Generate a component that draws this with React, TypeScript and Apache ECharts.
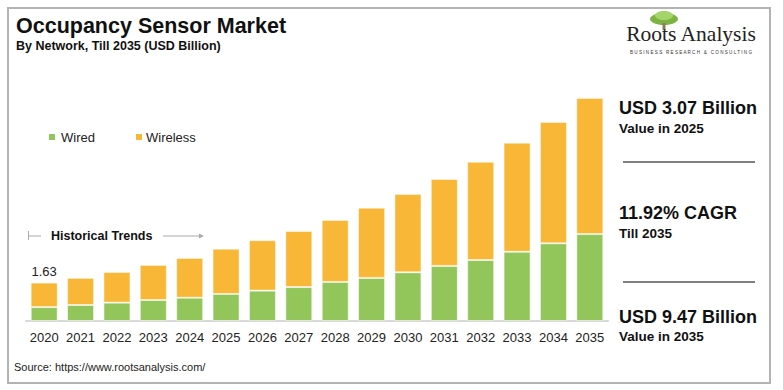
import React, { useEffect, useRef } from "react";
import * as echarts from "echarts";

const years = ["2020","2021","2022","2023","2024","2025","2026","2027","2028","2029","2030","2031","2032","2033","2034","2035"];
const wired = [0.59, 0.68, 0.78, 0.89, 0.99, 1.15, 1.29, 1.44, 1.66, 1.83, 2.07, 2.34, 2.59, 2.94, 3.30, 3.69];
const wireless = [1.04, 1.15, 1.30, 1.49, 1.69, 1.92, 2.14, 2.38, 2.63, 2.98, 3.32, 3.69, 4.17, 4.63, 5.15, 5.78];
const firstLabel = "1.63";

const GREEN = "#92C55A";
const ORANGE = "#F8B737";
const FONT = "Liberation Sans, Arial, sans-serif";

export default function App() {
  const ref = useRef<HTMLDivElement>(null);
  useEffect(() => {
    if (!ref.current) return;
    const chart = echarts.init(ref.current, null, { renderer: "svg" });
    const option: any = {
      animation: false,
      backgroundColor: "#ffffff",
      textStyle: { fontFamily: FONT },
      grid: { left: 26, right: 175, top: 85.5, bottom: 69 },
      legend: { show: false },
      xAxis: {
        type: "category",
        data: years,
        axisLine: { lineStyle: { color: "#d9d9d9", width: 2 } },
        axisTick: { show: false },
        axisLabel: { interval: 0, color: "#222", fontSize: 13, margin: 10, fontFamily: FONT },
      },
      yAxis: { type: "value", min: 0, max: 10, show: false, splitLine: { show: false } },
      series: [
        {
          name: "Wired",
          type: "bar",
          stack: "t",
          barWidth: 27,
          data: wired,
          itemStyle: { color: GREEN, borderColor: "rgba(255,255,255,0.55)", borderWidth: 1 },
        },
        {
          name: "Wireless",
          type: "bar",
          stack: "t",
          barWidth: 27,
          data: wireless.map((v, i) =>
            i === 0
              ? { value: v, label: { show: true, position: "top", distance: 5, formatter: firstLabel, color: "#222", fontSize: 13, fontFamily: FONT } }
              : v
          ),
          itemStyle: { color: ORANGE, borderColor: "rgba(255,255,255,0.45)", borderWidth: 1 },
        },
      ],
      graphic: [
        { type: "rect", shape: { x: 8, y: 8, width: 762, height: 375 }, style: { fill: "none", stroke: "#b3b3b3", lineWidth: 2 }, z: 100 },
        { type: "text", x: 16, y: 26, style: { text: "Occupancy Sensor Market", font: `bold 21.5px ${FONT}`, fill: "#111", textVerticalAlign: "middle" } },
        { type: "text", x: 16, y: 46, style: { text: "By Network, Till 2035 (USD Billion)", font: `bold 12.5px ${FONT}`, fill: "#111", textVerticalAlign: "middle" } },
        // logo
        { type: "ellipse", shape: { cx: 664, cy: 19, rx: 14, ry: 6 }, style: { fill: "#7cb342" } },
        { type: "ellipse", shape: { cx: 664, cy: 15.5, rx: 9, ry: 4.5 }, style: { fill: "#a5d46a" } },
        { type: "rect", shape: { x: 662.5, y: 23, width: 3, height: 7 }, style: { fill: "#8a7a5a" } },
        { type: "text", x: 691, y: 34, style: { text: "Roots Analysis", font: `21.5px Liberation Serif, Times New Roman, serif`, fill: "#222", align: "center", textVerticalAlign: "middle" } },
        { type: "text", x: 691, y: 52, style: { text: "B U S I N E S S   R E S E A R C H   &   C O N S U L T I N G", font: `4.6px ${FONT}`, fill: "#333", align: "center", textVerticalAlign: "middle" } },
        // legend
        { type: "rect", shape: { x: 49, y: 134, width: 6, height: 6 }, style: { fill: GREEN } },
        { type: "text", x: 61, y: 137.5, style: { text: "Wired", font: `13px ${FONT}`, fill: "#222", textVerticalAlign: "middle" } },
        { type: "rect", shape: { x: 136, y: 134, width: 6, height: 6 }, style: { fill: ORANGE } },
        { type: "text", x: 146, y: 137.5, style: { text: "Wireless", font: `13px ${FONT}`, fill: "#222", textVerticalAlign: "middle" } },
        // historical trends
        { type: "line", shape: { x1: 28.5, y1: 231, x2: 28.5, y2: 240 }, style: { stroke: "#aaa", lineWidth: 1 } },
        { type: "line", shape: { x1: 28, y1: 236, x2: 41, y2: 236 }, style: { stroke: "#aaa", lineWidth: 1 } },
        { type: "text", x: 51, y: 236, style: { text: "Historical Trends", font: `bold 12.5px ${FONT}`, fill: "#111", textVerticalAlign: "middle" } },
        { type: "line", shape: { x1: 163, y1: 236, x2: 200, y2: 236 }, style: { stroke: "#aaa", lineWidth: 1 } },
        { type: "polygon", shape: { points: [[199, 233.5], [204, 236], [199, 238.5]] }, style: { fill: "#aaa" } },
        // right panel
        { type: "text", x: 619, y: 108, style: { text: "USD 3.07 Billion", font: `bold 18px ${FONT}`, fill: "#111", textVerticalAlign: "middle" } },
        { type: "text", x: 619, y: 128, style: { text: "Value in 2025", font: `bold 13.5px ${FONT}`, fill: "#111", textVerticalAlign: "middle" } },
        { type: "line", shape: { x1: 623, y1: 162, x2: 755, y2: 162 }, style: { stroke: "#808080", lineWidth: 2 } },
        { type: "text", x: 619, y: 213, style: { text: "11.92% CAGR", font: `bold 18px ${FONT}`, fill: "#111", textVerticalAlign: "middle" } },
        { type: "text", x: 619, y: 233, style: { text: "Till 2035", font: `bold 13.5px ${FONT}`, fill: "#111", textVerticalAlign: "middle" } },
        { type: "line", shape: { x1: 623, y1: 282, x2: 755, y2: 282 }, style: { stroke: "#808080", lineWidth: 2 } },
        { type: "text", x: 619, y: 317, style: { text: "USD 9.47 Billion", font: `bold 18px ${FONT}`, fill: "#111", textVerticalAlign: "middle" } },
        { type: "text", x: 619, y: 336, style: { text: "Value in 2035", font: `bold 13.5px ${FONT}`, fill: "#111", textVerticalAlign: "middle" } },
        // source
        { type: "text", x: 14, y: 367, style: { text: "Source: https://www.rootsanalysis.com/", font: `11px ${FONT}`, fill: "#222", textVerticalAlign: "middle" } },
      ],
    };
    chart.setOption(option);
    return () => chart.dispose();
  }, []);
  return <div ref={ref} style={{ position: "fixed", left: 0, top: 0, width: 783, height: 390 }} />;
}
